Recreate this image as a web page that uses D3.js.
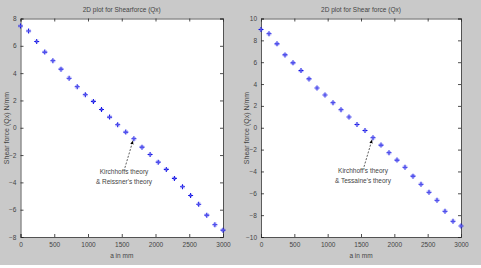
<!DOCTYPE html>
<html><head><meta charset="utf-8">
<script src="https://cdn.jsdelivr.net/npm/d3@7"></script>
<style>
html,body{margin:0;padding:0;background:#fff;}
svg{display:block;font-family:"Liberation Sans",Arial,sans-serif;}
</style></head>
<body>
<svg id="c" width="481" height="268"></svg>
<script>
// ---------- data ----------
const aValues = [0,120,240,360,480,600,720,840,960,1080,1200,1320,1440,1560,1680,1800,1920,2040,2160,2280,2400,2520,2640,2760,2880,3000];
const qxLeft = [7.45,7.08,6.32,5.54,4.91,4.29,3.63,3.0,2.42,1.93,1.34,0.78,0.22,-0.32,-0.81,-1.42,-1.96,-2.52,-3.05,-3.71,-4.32,-4.96,-5.6,-6.4,-7.1,-7.5];
const qxRight = [8.99,8.6,7.68,6.67,5.94,5.23,4.47,3.64,3.0,2.29,1.65,0.98,0.3,-0.25,-0.92,-1.59,-2.29,-2.96,-3.61,-4.43,-5.17,-5.9,-6.63,-7.64,-8.56,-8.99];
const xTicks = [0,500,1000,1500,2000,2500,3000];
const yTicksLeft = [-8,-6,-4,-2,0,2,4,6,8];
const yTicksRight = [-10,-8,-6,-4,-2,0,2,4,6,8,10];
const titles = ["2D plot for Shearforce (Qx)", "2D plot for Shear force (Qx)"];
const yLabel = "Shear force (Qx) N/mm";
const xLabel = "a in mm";
const annotLeft = ["Kirchhoffs theory", "& Reissner's theory"];
const annotRight = ["Kirchhoff's theory", "& Tessaine's theory"];
const annotIndex = 14;

const svg = d3.select("#c");
svg.append("rect").attr("x",0).attr("y",0).attr("width",481).attr("height",265).attr("fill","#c9c9c9");

function panel(cfg){
  const g = svg.append("g");
  const x = d3.scaleLinear().domain([0,3000]).range([cfg.x0, cfg.x1]);
  const y = d3.scaleLinear().domain(cfg.yDomain).range([237, 18.5]);
  g.append("rect").attr("x",cfg.x0).attr("y",18.5).attr("width",cfg.x1-cfg.x0).attr("height",237-18.5)
    .attr("fill","#fff");
  const tl = 3;
  const fs = "6.5px";
  // axes
  const axB = d3.axisBottom(x).tickValues(xTicks).tickSize(-tl).tickPadding(5).tickFormat(d3.format("d"));
  const axT = d3.axisTop(x).tickValues(xTicks).tickSize(-tl).tickFormat("");
  const axL = d3.axisLeft(y).tickValues(cfg.yTicks).tickSize(-tl).tickPadding(4).tickFormat(d3.format("d"));
  const axR = d3.axisRight(y).tickValues(cfg.yTicks).tickSize(-tl).tickFormat("");
  const style = s => { s.select(".domain").attr("stroke","#333").attr("stroke-width",0.8);
    s.selectAll(".tick line").attr("stroke","#222").attr("stroke-width",0.8);
    s.selectAll("text").attr("fill","#444").style("font-size",fs); };
  g.append("g").attr("transform","translate(0,237)").call(axB).call(style);
  g.append("g").attr("transform","translate(0,18.5)").call(axT).call(style);
  g.append("g").attr("transform",`translate(${cfg.x0},0)`).call(axL).call(style);
  g.append("g").attr("transform",`translate(${cfg.x1},0)`).call(axR).call(style);
  // title & labels
  const cx = (cfg.x0+cfg.x1)/2;
  g.append("text").attr("x",cx).attr("y",12).attr("text-anchor","middle")
    .style("font-size","6.5px").attr("fill","#444").text(cfg.title);
  g.append("text").attr("x",cx).attr("y",258).attr("text-anchor","middle")
    .style("font-size","6.5px").attr("fill","#444").text(xLabel);
  g.append("text").attr("transform",`translate(${cfg.x0-12},128) rotate(-90)`).attr("text-anchor","middle")
    .style("font-size","7px").attr("fill","#444").text(yLabel);
  // markers
  const pts = aValues.map((a,i)=>({a, v: cfg.data[i]}));
  const mk = g.append("g");
  pts.forEach(p=>{
    const px = x(p.a), py = y(p.v);
    mk.append("path").attr("d",`M${px-2.5},${py}H${px+2.5}M${px},${py-2.5}V${py+2.5}`)
      .attr("stroke","#1515e6").attr("stroke-width",1.1);
    mk.append("path").attr("d",`M${px-1.6},${py-1.6}L${px+1.6},${py+1.6}M${px-1.6},${py+1.6}L${px+1.6},${py-1.6}`)
      .attr("stroke","#6a6af0").attr("stroke-width",0.7);
  });
  // annotation
  const tx = x(aValues[annotIndex]) - 1, ty = y(cfg.data[annotIndex]) + 2;
  const sx = tx - 8, sy = ty + 27;
  g.append("defs").append("marker").attr("id","ah"+cfg.id).attr("viewBox","0 0 10 10")
    .attr("refX",9).attr("refY",5).attr("markerWidth",5).attr("markerHeight",5).attr("orient","auto")
    .append("path").attr("d","M0,1L10,5L0,9Z").attr("fill","#000");
  g.append("line").attr("x1",sx).attr("y1",sy).attr("x2",tx).attr("y2",ty)
    .attr("stroke","#333").attr("stroke-width",0.8).attr("stroke-dasharray","2,1.5")
    .attr("marker-end",`url(#ah${cfg.id})`);
  cfg.annot.forEach((t,i)=>{
    g.append("text").attr("x",cfg.annotX).attr("y",sy+6+i*10.5).attr("text-anchor","middle")
      .style("font-size","6.5px").attr("fill","#444").text(t);
  });
}

panel({id:"L", x0:20.5, x1:223, yDomain:[-8,8], yTicks:yTicksLeft, data:qxLeft, title:titles[0], annot:annotLeft, annotX:124});
panel({id:"R", x0:261, x1:461, yDomain:[-10,10], yTicks:yTicksRight, data:qxRight, title:titles[1], annot:annotRight, annotX:363});
</script>
</body></html>
